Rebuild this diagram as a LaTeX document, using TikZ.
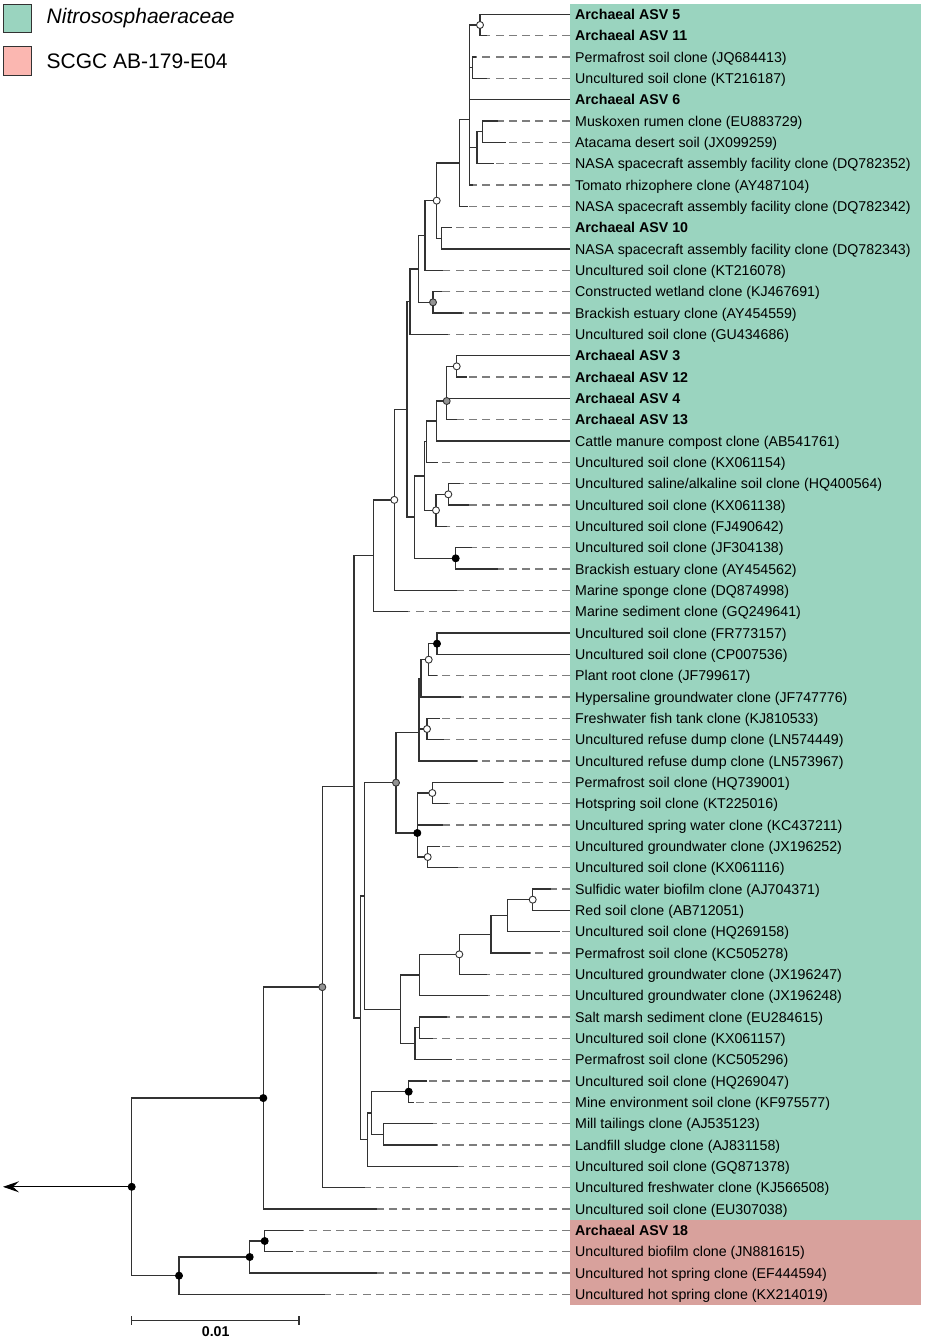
\documentclass[tikz,border=0pt]{standalone}
\usepackage{fontspec}
\setmainfont{Liberation Sans}
\usetikzlibrary{arrows.meta}
\definecolor{boxgreen}{RGB}{154,212,191}
\definecolor{boxred}{RGB}{216,161,156}
\definecolor{legred}{RGB}{251,183,177}
\definecolor{linecol}{RGB}{50,50,50}
\definecolor{dashcol}{RGB}{125,125,125}
\tikzset{
  br/.style={draw=linecol, line width=1.35pt},
  dashline/.style={draw=dashcol, line width=1.35pt, dash pattern=on 8pt off 5.3pt},
  lab/.style={anchor=west, inner sep=0pt, text height=10.2pt, text depth=0pt, font=\fontsize{14.2}{17}\selectfont},
  wnode/.style={circle, draw=linecol, fill=white, line width=0.9pt, minimum size=7pt, inner sep=0pt},
  gnode/.style={circle, draw=linecol, fill=gray!85, line width=0.9pt, minimum size=7pt, inner sep=0pt},
  bnode/.style={circle, draw=black, fill=black, line width=0.9pt, minimum size=7pt, inner sep=0pt},
  legbox/.style={draw=linecol, line width=1pt},
}
\begin{document}
\begin{tikzpicture}[x=1pt, y=-1pt]
\useasboundingbox (0,0) rectangle (925,1339);
% clade boxes
\fill[boxgreen] (570,4) rectangle (921,1220);
\fill[boxred] (570,1220) rectangle (921,1305);
% legend
\draw[legbox, fill=boxgreen] (3.3,4.7) rectangle (31.7,32.7);
\draw[legbox, fill=legred] (3.3,46.7) rectangle (31.7,75.7);
\node[anchor=west, inner sep=0pt, font=\fontsize{21}{24}\itshape] (leg1) at (46.5,18.5) {Nitrososphaeraceae};
\node[anchor=west, inner sep=0pt, font=\fontsize{21}{24}\selectfont] (leg2) at (46.5,61.5) {SCGC AB-179-E04};
% scale bar
\coordinate (sb1) at (131.7,1320.7);
\coordinate (sb2) at (299,1320.7);
\draw[br, line width=1.2pt] (sb1) -- (sb2);
\draw[br, line width=1.2pt] ([yshift=4.5pt]sb1) -- ([yshift=-4.5pt]sb1);
\draw[br, line width=1.2pt] ([yshift=4.5pt]sb2) -- ([yshift=-4.5pt]sb2);
\node[inner sep=0pt, font=\fontsize{14.2}{17}\bfseries] (sblab) at (215.7,1331.5) {0.01};

\begin{scope}[y=-21.3333pt, yshift=7.003pt]
\foreach \ex/\txt [count=\i] in {
570/{\textbf{Archaeal ASV 5}},
486.7/{\textbf{Archaeal ASV 11}},
476/{Permafrost soil clone (JQ684413)},
486.7/{Uncultured soil clone (KT216187)},
570/{\textbf{Archaeal ASV 6}},
498.3/{Muskoxen rumen clone (EU883729)},
505.7/{Atacama desert soil (JX099259)},
494/{NASA spacecraft assembly facility clone (DQ782352)},
473.3/{Tomato rhizophere clone (AY487104)},
468.3/{NASA spacecraft assembly facility clone (DQ782342)},
451.7/{\textbf{Archaeal ASV 10}},
570/{NASA spacecraft assembly facility clone (DQ782343)},
443/{Uncultured soil clone (KT216078)},
442/{Constructed wetland clone (KJ467691)},
462/{Brackish estuary clone (AY454559)},
448/{Uncultured soil clone (GU434686)},
570/{\textbf{Archaeal ASV 3}},
466.7/{\textbf{Archaeal ASV 12}},
570/{\textbf{Archaeal ASV 4}},
456.7/{\textbf{Archaeal ASV 13}},
570/{Cattle manure compost clone (AB541761)},
438.3/{Uncultured soil clone (KX061154)},
460/{Uncultured saline/alkaline soil clone (HQ400564)},
469.3/{Uncultured soil clone (KX061138)},
447.3/{Uncultured soil clone (FJ490642)},
471.7/{Uncultured soil clone (JF304138)},
498/{Brackish estuary clone (AY454562)},
457/{Marine sponge clone (DQ874998)},
408.3/{Marine sediment clone (GQ249641)},
570/{Uncultured soil clone (FR773157)},
570/{Uncultured soil clone (CP007536)},
436.7/{Plant root clone (JF799617)},
460.7/{Hypersaline groundwater clone (JF747776)},
440/{Freshwater fish tank clone (KJ810533)},
444/{Uncultured refuse dump clone (LN574449)},
476.7/{Uncultured refuse dump clone (LN573967)},
503.3/{Permafrost soil clone (HQ739001)},
448.3/{Hotspring soil clone (KT225016)},
443.3/{Uncultured spring water clone (KC437211)},
440/{Uncultured groundwater clone (JX196252)},
458.3/{Uncultured soil clone (KX061116)},
550.7/{Sulfidic water biofilm clone (AJ704371)},
570/{Red soil clone (AB712051)},
560/{Uncultured soil clone (HQ269158)},
530/{Permafrost soil clone (KC505278)},
486.7/{Uncultured groundwater clone (JX196247)},
488.3/{Uncultured groundwater clone (JX196248)},
446.7/{Salt marsh sediment clone (EU284615)},
432.7/{Uncultured soil clone (KX061157)},
452.3/{Permafrost soil clone (KC505296)},
427.3/{Uncultured soil clone (HQ269047)},
414/{Mine environment soil clone (KF975577)},
432.7/{Mill tailings clone (AJ535123)},
436.7/{Landfill sludge clone (AJ831158)},
458.3/{Uncultured soil clone (GQ871378)},
365/{Uncultured freshwater clone (KJ566508)},
376.7/{Uncultured soil clone (EU307038)},
303.3/{\textbf{Archaeal ASV 18}},
293.3/{Uncultured biofilm clone (JN881615)},
376.7/{Uncultured hot spring clone (EF444594)},
325/{Uncultured hot spring clone (KX214019)}
}{
  \coordinate (e\i) at (\ex,\i);
  \coordinate (d\i) at (570,\i);
  \node[lab] (t\i) at (575,\i) {\txt};
  \draw[dashline] (d\i) -- (e\i);
}
% internal nodes
\coordinate (nA) at (480,1.5);
\coordinate (nB) at (472.7,3.5);
\coordinate (nAB) at (469.3,2.5);
\coordinate (nAB6) at (469.3,3.75);
\coordinate (nC1) at (482.3,6.5);
\coordinate (nC) at (477,7.25);
\coordinate (nCT) at (469.3,8.125);
\coordinate (nP) at (469.3,5.9375);
\coordinate (nPQ) at (459.3,7.96875);
\coordinate (nD) at (441.7,11.5);
\coordinate (nE) at (436.7,9.734);
\coordinate (nF) at (425,11.367);
\coordinate (nH) at (433,14.5);
\coordinate (nG) at (418.3,12.934);
\coordinate (nI) at (410,14.467);
\coordinate (nR) at (456.7,17.5);
\coordinate (nR4) at (446.7,18.25);
\coordinate (nQ) at (446.7,19.125);
\coordinate (nQc) at (436.7,20.0625);
\coordinate (nS) at (426.7,21.031);
\coordinate (nT2) at (448.3,23.5);
\coordinate (nT1) at (436,24.25);
\coordinate (nN) at (424.3,22.64);
\coordinate (nO) at (455.7,26.5);
\coordinate (nM) at (414.3,24.57);
\coordinate (nL) at (407,19.52);
\coordinate (nJ) at (394.3,23.76);
\coordinate (nK) at (373.3,26.38);
\coordinate (n30) at (437,30.5);
\coordinate (n32) at (428.7,31.25);
\coordinate (n33) at (421,32.125);
\coordinate (n35) at (427,34.5);
\coordinate (n34a) at (419,33.3125);
\coordinate (n34) at (419,34.656);
\coordinate (nLL) at (432.3,37.5);
\coordinate (nNN) at (417.3,38.25);
\coordinate (nMM) at (427.7,40.5);
\coordinate (nKK) at (417.3,39.375);
\coordinate (nY) at (396,37.016);
\coordinate (nJJ) at (532.7,42.5);
\coordinate (nII) at (507.7,43.25);
\coordinate (nHH) at (491,44.125);
\coordinate (nGG) at (459.3,45.0625);
\coordinate (nFF) at (419.3,46.03);
\coordinate (nEE) at (419.3,48.5);
\coordinate (nDD) at (415,49.25);
\coordinate (nZ) at (400.3,47.64);
\coordinate (nW) at (364.3,42.33);
\coordinate (nBB) at (408.7,51.5);
\coordinate (nCC) at (383.7,53.5);
\coordinate (nAA) at (371.7,52.5);
\coordinate (nX) at (367.7,53.75);
\coordinate (nV) at (360.7,48.04);
\coordinate (nT) at (354,37.21);
\coordinate (nU) at (322.3,46.6);
\coordinate (nG2) at (263.3,51.8);
\coordinate (n18) at (264.7,58.5);
\coordinate (n18b) at (249.7,59.25);
\coordinate (n18c) at (179,60.125);
\coordinate (root) at (131.7,55.96);
\coordinate (arr) at (3,55.96);
% branches
\draw[br] (e1) -| (nA) |- (e2);
\draw[br] (e3) -| (nB) |- (e4);
\draw[br] (nA) -| (nAB) |- (nB);
\draw[br] (nAB) -| (nAB6) |- (e5);
\draw[br] (e6) -| (nC1) |- (e7);
\draw[br] (nC1) -| (nC) |- (e8);
\draw[br] (nC) -| (nCT) |- (e9);
\draw[br] (nAB6) -| (nP) |- (nCT);
\draw[br] (nP) -| (nPQ) |- (e10);
\draw[br] (e11) -| (nD) |- (e12);
\draw[br] (nPQ) -| (nE) |- (nD);
\draw[br] (nE) -| (nF) |- (e13);
\draw[br] (e14) -| (nH) |- (e15);
\draw[br] (nF) -| (nG) |- (nH);
\draw[br] (nG) -| (nI) |- (e16);
\draw[br] (e17) -| (nR) |- (e18);
\draw[br] (nR) -| (nR4) |- (e19);
\draw[br] (nR4) -| (nQ) |- (e20);
\draw[br] (nQ) -| (nQc) |- (e21);
\draw[br] (nQc) -| (nS) |- (e22);
\draw[br] (e23) -| (nT2) |- (e24);
\draw[br] (nT2) -| (nT1) |- (e25);
\draw[br] (nS) -| (nN) |- (nT1);
\draw[br] (e26) -| (nO) |- (e27);
\draw[br] (nN) -| (nM) |- (nO);
\draw[br] (nI) -| (nL) |- (nM);
\draw[br] (nL) -| (nJ) |- (e28);
\draw[br] (nJ) -| (nK) |- (e29);
\draw[br] (e30) -| (n30) |- (e31);
\draw[br] (n30) -| (n32) |- (e32);
\draw[br] (n32) -| (n33) |- (e33);
\draw[br] (e34) -| (n35) |- (e35);
\draw[br] (n33) -| (n34a) |- (n35);
\draw[br] (n34a) -| (n34) |- (e36);
\draw[br] (e37) -| (nLL) |- (e38);
\draw[br] (nLL) -| (nNN) |- (e39);
\draw[br] (e40) -| (nMM) |- (e41);
\draw[br] (nNN) -| (nKK) |- (nMM);
\draw[br] (n34) -| (nY) |- (nKK);
\draw[br] (e42) -| (nJJ) |- (e43);
\draw[br] (nJJ) -| (nII) |- (e44);
\draw[br] (nII) -| (nHH) |- (e45);
\draw[br] (nHH) -| (nGG) |- (e46);
\draw[br] (nGG) -| (nFF) |- (e47);
\draw[br] (e48) -| (nEE) |- (e49);
\draw[br] (nEE) -| (nDD) |- (e50);
\draw[br] (nFF) -| (nZ) |- (nDD);
\draw[br] (nY) -| (nW) |- (nZ);
\draw[br] (e51) -| (nBB) |- (e52);
\draw[br] (e53) -| (nCC) |- (e54);
\draw[br] (nBB) -| (nAA) |- (nCC);
\draw[br] (nAA) -| (nX) |- (e55);
\draw[br] (nW) -| (nV) |- (nX);
\draw[br] (nK) -| (nT) |- (nV);
\draw[br] (nT) -| (nU) |- (e56);
\draw[br] (nU) -| (nG2) |- (e57);
\draw[br] (e58) -| (n18) |- (e59);
\draw[br] (n18) -| (n18b) |- (e60);
\draw[br] (n18b) -| (n18c) |- (e61);
\draw[br] (nG2) -| (root) |- (n18c);
\draw[draw=black, line width=1.1pt, -{Stealth[length=16pt, width=11pt, inset=6pt]}] (root) -- (arr);
% support markers
\foreach \n in {nA,nE,nR,nT2,nT1,nJ,n32,n35,nLL,nMM,nJJ,nGG}
  \node[wnode] (m\n) at (\n) {};
\foreach \n in {nH,nQ,nY,nU}
  \node[gnode] (m\n) at (\n) {};
\foreach \n in {nO,n30,nKK,nBB,nG2,n18,n18b,n18c,root}
  \node[bnode] (m\n) at (\n) {};
\end{scope}
\end{tikzpicture}
\end{document}
